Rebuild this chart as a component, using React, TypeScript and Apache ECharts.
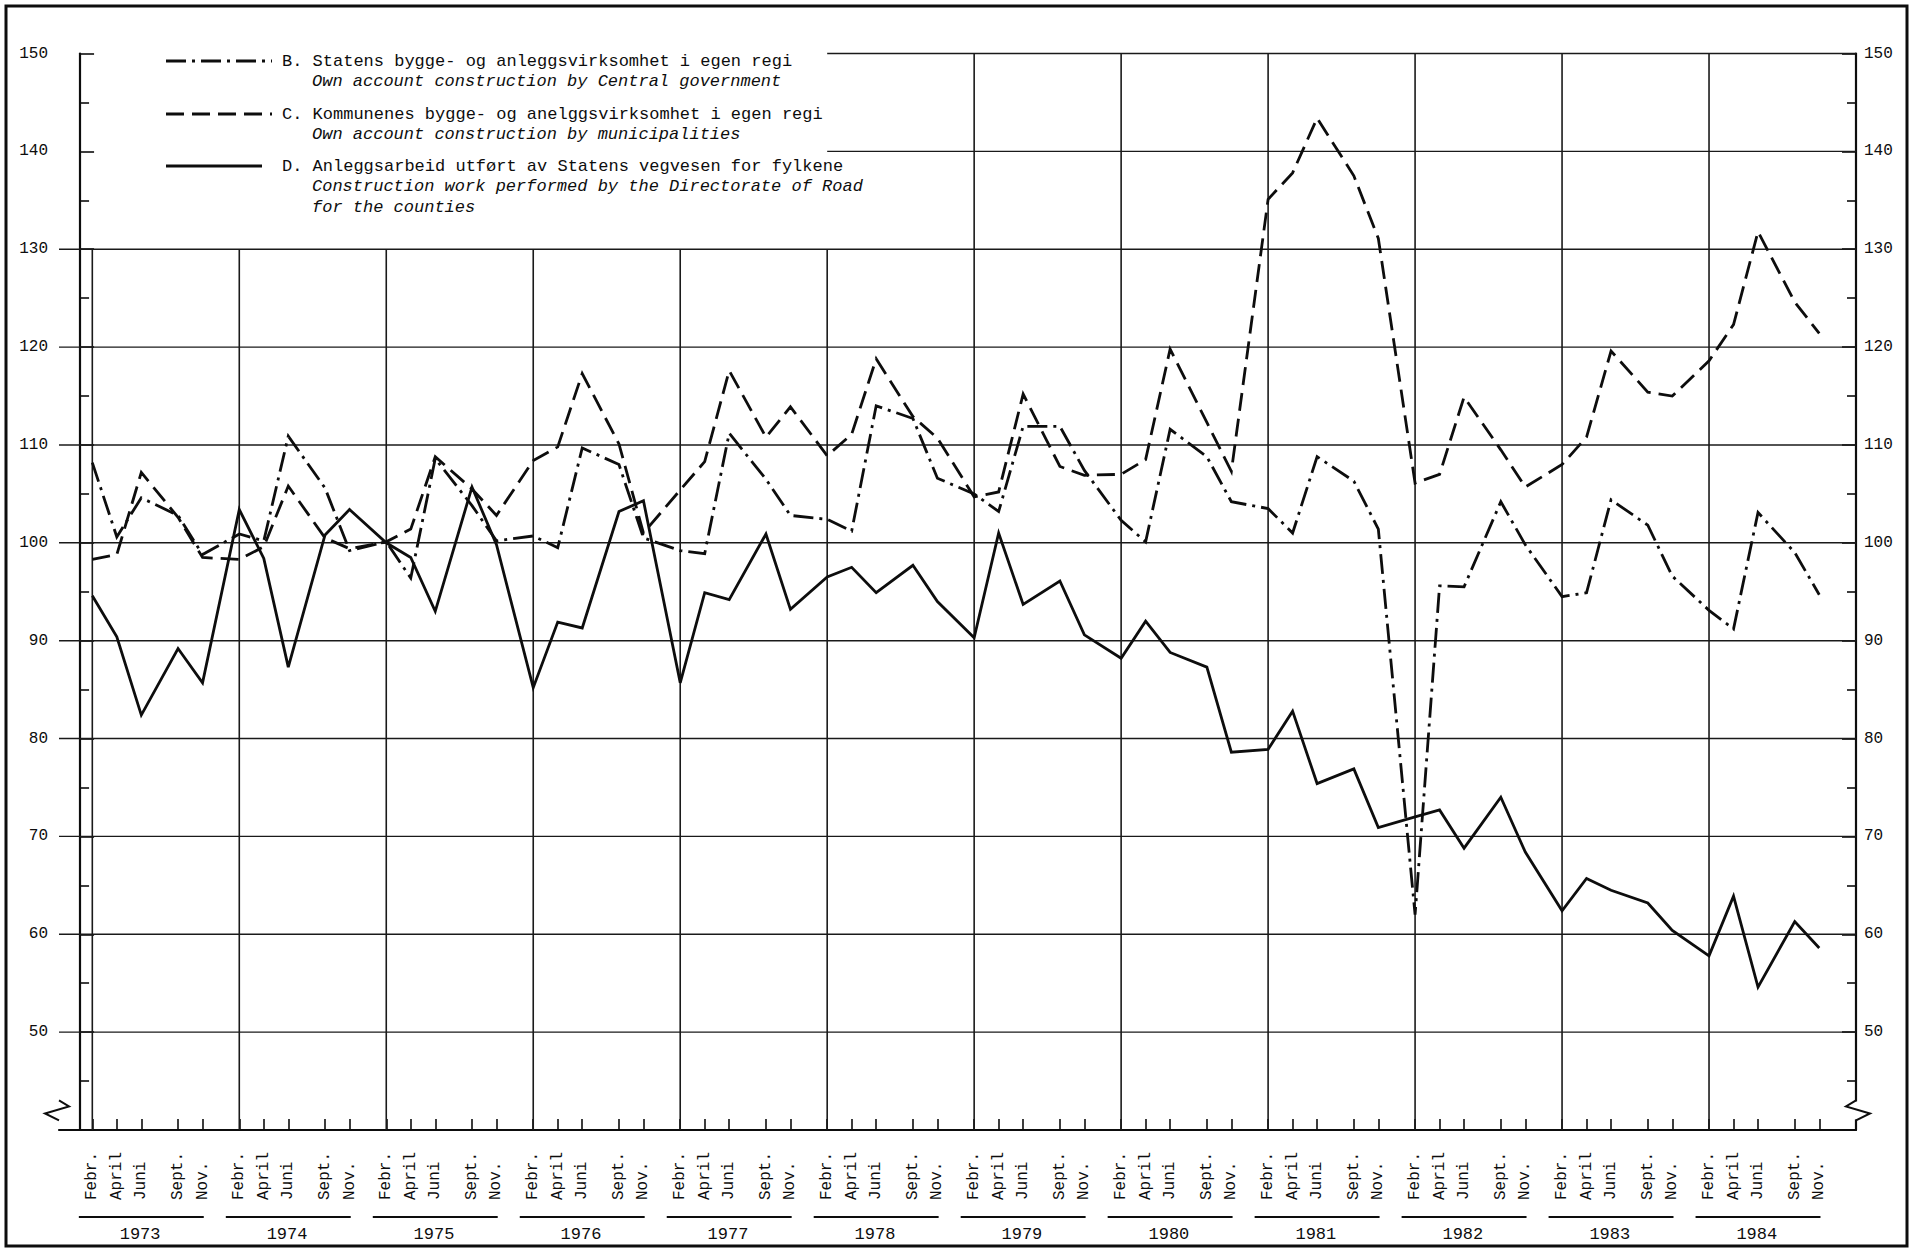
import React, { useEffect, useRef } from 'react';
import * as echarts from 'echarts';

// ---------- data ----------
const YEARS = [1973, 1974, 1975, 1976, 1977, 1978, 1979, 1980, 1981, 1982, 1983, 1984];
const MONTHS = ['Febr.', 'April', 'Juni', 'Sept.', 'Nov.'];
const MONTH_OFFSETS = [1, 3, 5, 8, 10]; // months after January

// B. Statens bygge- og anleggsvirksomhet i egen regi (dash-dot)
const SERIES_B = [
  108.2, 100.6, 104.6, 102.8, 98.8,
  100.9, 100.2, 110.9, 105.6, 99.2,
  100.1, 96.4, 108.6, 103.8, 100.2,
  100.7, 99.5, 109.7, 108.0, 100.5,
  99.2, 98.9, 111.2, 106.5, 102.8,
  102.4, 101.2, 114.0, 112.7, 106.6,
  105.0, 103.2, 111.9, 111.9, 107.4,
  102.3, 100.1, 111.6, 108.8, 104.2,
  103.5, 101.0, 108.8, 106.3, 101.4,
  62.0, 95.6, 95.5, 104.2, 99.8,
  94.5, 94.9, 104.4, 101.8, 96.6,
  93.1, 91.2, 103.1, 99.0, 94.7,
];

// C. Kommunenes bygge- og anelggsvirksomhet i egen regi (dashed)
const SERIES_C = [
  98.3, 98.8, 107.2, 102.6, 98.5,
  98.3, 99.6, 105.8, 100.5, 99.4,
  100.1, 101.4, 108.8, 105.5, 102.8,
  108.4, 109.8, 117.3, 110.1, 101.0,
  105.4, 108.3, 117.6, 110.8, 113.9,
  108.9, 111.1, 118.8, 112.9, 110.7,
  104.7, 105.2, 115.2, 107.8, 106.9,
  107.0, 108.5, 119.8, 112.3, 107.3,
  135.1, 137.8, 143.4, 137.5, 131.1,
  106.1, 107.0, 114.9, 109.5, 105.7,
  108.0, 110.8, 119.6, 115.4, 115.0,
  118.6, 122.3, 131.8, 124.6, 121.4,
];

// D. Anleggsarbeid utført av Statens vegvesen for fylkene (solid)
const SERIES_D = [
  94.6, 90.4, 82.4, 89.2, 85.7,
  103.4, 98.4, 87.3, 100.8, 103.4,
  100.0, 98.5, 93.0, 105.7, 99.8,
  85.2, 91.9, 91.3, 103.2, 104.3,
  85.7, 94.9, 94.2, 100.9, 93.2,
  96.5, 97.5, 94.9, 97.7, 94.0,
  90.3, 101.0, 93.7, 96.1, 90.6,
  88.2, 92.0, 88.8, 87.3, 78.6,
  78.9, 82.8, 75.4, 76.9, 70.9,
  72.0, 72.7, 68.8, 74.0, 68.4,
  62.4, 65.7, 64.5, 63.2, 60.4,
  57.8, 63.9, 54.6, 61.3, 58.6,
];

const Y_GRID_VALUES = [50, 60, 70, 80, 90, 100, 110, 120, 130, 140, 150];
const LEGEND_TEXTS = [
  ['B. Statens bygge- og anleggsvirksomhet i egen regi', 'Own account construction by Central government'],
  ['C. Kommunenes bygge- og anelggsvirksomhet i egen regi', 'Own account construction by municipalities'],
  ['D. Anleggsarbeid utført av Statens vegvesen for fylkene', 'Construction work performed by the Directorate of Road', 'for the counties'],
];

// ---------- layout constants ----------
const X_MIN = -1.72;
const X_MAX = 145;
const Y_MIN = 40;
const Y_MAX = 150;
const BREAK_VALUE = 42;
const INK = '#0d0d0d';
const MONO = '"Liberation Mono", "DejaVu Sans Mono", monospace';

const monthX = (year: number, offset: number) => 12 * (year - YEARS[0]) + offset;
const XS = YEARS.flatMap((y) => MONTH_OFFSETS.map((m) => monthX(y, m)));

const DASH_B = [20, 6, 3, 6];
const DASH_C = [18, 8];

export default function App() {
  const ref = useRef<HTMLDivElement>(null);

  useEffect(() => {
    if (!ref.current) return;
    const chart = echarts.init(ref.current, null, { renderer: 'svg' });

    const lineSeries = (name: string, values: number[], dash: any) => ({
      name,
      type: 'line',
      xAxisIndex: 0,
      yAxisIndex: 0,
      data: XS.map((x, i) => [x, values[i]]),
      symbol: 'none',
      silent: true,
      z: 5,
      lineStyle: { color: INK, width: 2.8, type: dash, join: 'miter', cap: 'butt' },
    });

    const topStart = monthX(1978, 1);

    const hGrid = {
      type: 'custom',
      coordinateSystem: 'cartesian2d',
      xAxisIndex: 0,
      yAxisIndex: 0,
      silent: true,
      z: 1,
      clip: false,
      data: Y_GRID_VALUES.map((v) => [v <= 130 ? X_MIN : topStart, v]),
      renderItem: (_p: any, api: any) => {
        const a = api.coord([api.value(0), api.value(1)]);
        const b = api.coord([X_MAX, api.value(1)]);
        return {
          type: 'line',
          shape: { x1: a[0], y1: a[1], x2: b[0], y2: b[1] },
          style: { stroke: '#1a1a1a', lineWidth: 1.4 },
        };
      },
    };

    const vGrid = {
      type: 'custom',
      coordinateSystem: 'cartesian2d',
      xAxisIndex: 0,
      yAxisIndex: 0,
      silent: true,
      z: 1,
      clip: false,
      data: YEARS.map((y) => [monthX(y, 1), y >= 1979 ? 150 : 130]),
      renderItem: (_p: any, api: any) => {
        const a = api.coord([api.value(0), Y_MIN]);
        const b = api.coord([api.value(0), api.value(1)]);
        return {
          type: 'line',
          shape: { x1: a[0], y1: a[1], x2: b[0], y2: b[1] },
          style: { stroke: '#1a1a1a', lineWidth: 1.6 },
        };
      },
    };

    const yearLabels = {
      type: 'custom',
      coordinateSystem: 'cartesian2d',
      xAxisIndex: 0,
      yAxisIndex: 0,
      silent: true,
      z: 2,
      clip: false,
      data: YEARS.map((y) => [monthX(y, 1), y]),
      renderItem: (_p: any, api: any) => {
        const feb = api.value(0);
        const a = api.coord([feb - 1.1, Y_MIN]);
        const b = api.coord([feb + 9.1, Y_MIN]);
        const c = api.coord([feb + 3.9, Y_MIN]);
        return {
          type: 'group',
          children: [
            {
              type: 'line',
              shape: { x1: a[0], y1: a[1] + 87, x2: b[0], y2: b[1] + 87 },
              style: { stroke: INK, lineWidth: 2.2 },
            },
            {
              type: 'text',
              x: c[0],
              y: c[1] + 104,
              style: {
                text: String(api.value(1)),
                fill: INK,
                fontFamily: MONO,
                fontSize: 17,
                align: 'center',
                textAlign: 'center',
                verticalAlign: 'middle',
                textVerticalAlign: 'middle',
              },
            },
          ],
        };
      },
    };

    const breaks = {
      type: 'custom',
      coordinateSystem: 'cartesian2d',
      xAxisIndex: 0,
      yAxisIndex: 0,
      silent: true,
      z: 20,
      clip: false,
      data: [
        [X_MIN, BREAK_VALUE, -1],
        [X_MAX, BREAK_VALUE, 1],
      ],
      renderItem: (_p: any, api: any) => {
        const p = api.coord([api.value(0), api.value(1)]);
        const d = api.value(2);
        const x = p[0];
        const y = p[1];
        return {
          type: 'group',
          children: [
            { type: 'rect', shape: { x: x - 4, y: y - 9, width: 8, height: 18 }, style: { fill: '#fff' } },
            {
              type: 'polyline',
              shape: { points: [[x, y - 10], [x - d * 10, y - 4], [x + d * 14, y + 3], [x, y + 10]] },
              style: { stroke: INK, lineWidth: 2, fill: 'none' },
            },
          ],
        };
      },
    };

    const yAxisBase = (position: 'left' | 'right') => ({
      type: 'value',
      position,
      min: Y_MIN,
      max: Y_MAX,
      interval: 10,
      axisLine: { show: true, lineStyle: { color: INK, width: 2.2 } },
      axisTick: { show: true, inside: true, length: 14, lineStyle: { color: INK, width: 1.6 } },
      minorTick: { show: true, splitNumber: 2, length: 9, lineStyle: { color: INK, width: 1.6 } },
      splitLine: { show: false },
      minorSplitLine: { show: false },
      axisLabel: {
        margin: position === 'left' ? 11 : 8,
        color: INK,
        fontFamily: MONO,
        fontSize: 16,
        formatter: (v: number) => (v >= 50 ? String(v) : ''),
      },
    });

    const legendGraphics: any[] = [];
    const legendY = [61, 114, 166];
    const dashes = [DASH_B, DASH_C, null];
    LEGEND_TEXTS.forEach((lines, i) => {
      const y0 = legendY[i];
      legendGraphics.push({
        type: 'line',
        silent: true,
        shape: { x1: 166, y1: y0, x2: i === 2 ? 262 : 272, y2: y0 },
        style: { stroke: INK, lineWidth: 2.8, lineDash: dashes[i] || undefined },
      });
      lines.forEach((t, j) => {
        legendGraphics.push({
          type: 'text',
          silent: true,
          x: j === 0 ? 282 : 312,
          y: y0 + j * 20.5,
          style: {
            text: t,
            fill: INK,
            fontFamily: MONO,
            fontSize: 17,
            fontStyle: j === 0 ? 'normal' : 'italic',
            verticalAlign: 'middle',
            textVerticalAlign: 'middle',
          },
        });
      });
    });
    legendGraphics.push({
      type: 'rect',
      silent: true,
      z: 100,
      shape: { x: 6, y: 6, width: 1901, height: 1240 },
      style: { fill: 'none', stroke: INK, lineWidth: 3 },
    });

    chart.setOption({
      animation: false,
      backgroundColor: '#fff',
      grid: { left: 59, right: 58, top: 53.5, bottom: 119, containLabel: false, outerBoundsMode: 'none' },
      xAxis: [
        {
          type: 'value',
          min: X_MIN,
          max: X_MAX,
          axisLine: { show: true, onZero: false, lineStyle: { color: INK, width: 2.2 } },
          axisTick: { show: true, inside: true, length: 11, customValues: XS, lineStyle: { color: INK, width: 1.6 } },
          splitLine: { show: false },
          axisLabel: {
            customValues: XS,
            rotate: 90,
            align: 'left',
            verticalAlign: 'middle',
            margin: 70,
            padding: [0, 0, 9, 0],
            color: INK,
            fontFamily: MONO,
            fontSize: 16,
            formatter: (v: number) => {
              const m = ((Math.round(v) % 12) + 12) % 12;
              const idx = MONTH_OFFSETS.indexOf(m);
              return idx >= 0 ? MONTHS[idx] : '';
            },
          },
        },
      ],
      yAxis: [yAxisBase('left'), yAxisBase('right')],
      graphic: legendGraphics,
      series: [
        hGrid,
        vGrid,
        yearLabels,
        breaks,
        lineSeries('B', SERIES_B, DASH_B),
        lineSeries('C', SERIES_C, DASH_C),
        lineSeries('D', SERIES_D, 'solid'),
      ],
    });

    return () => chart.dispose();
  }, []);

  return (
    <div
      ref={ref}
      style={{ position: 'fixed', left: 0, top: 0, width: 1914, height: 1249, background: '#fff' }}
    />
  );
}
